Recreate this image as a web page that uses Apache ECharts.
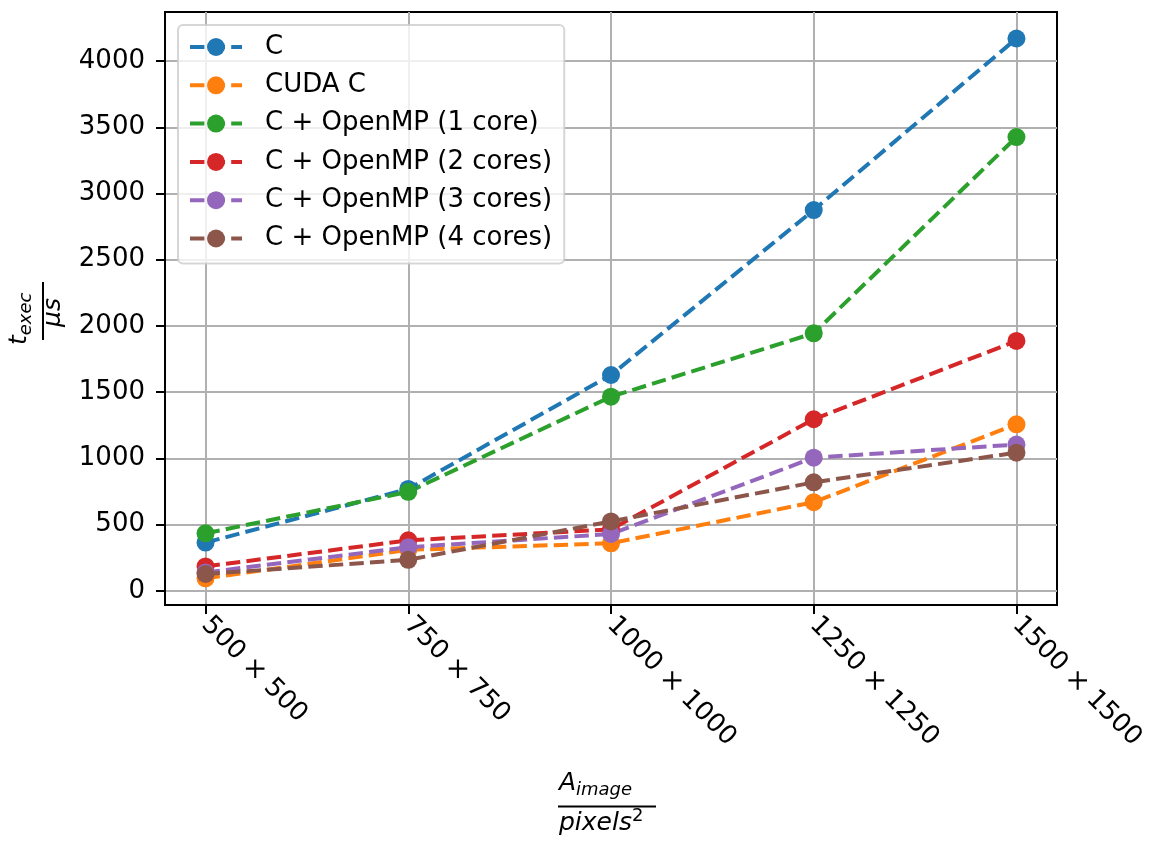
<!DOCTYPE html>
<html>
<head>
<meta charset="utf-8">
<script src="https://cdn.jsdelivr.net/npm/echarts@6/dist/echarts.min.js"></script>
<style>
  html, body { margin: 0; padding: 0; background: #fff; }
  #chart { width: 1162px; height: 841px; }
</style>
</head>
<body>
<div id="chart"></div>
<script>
/* ---- data ---- */
const sizes = ['500 × 500', '750 × 750', '1000 × 1000', '1250 × 1250', '1500 × 1500'];
const yTicks = [0, 500, 1000, 1500, 2000, 2500, 3000, 3500, 4000];

const seriesNames = ['C', 'CUDA C', 'C + OpenMP (1 core)', 'C + OpenMP (2 cores)', 'C + OpenMP (3 cores)', 'C + OpenMP (4 cores)'];
const cTimes      = [365, 770, 1630, 2875, 4170];
const cudaTimes   = [95, 310, 360, 670, 1258];
const omp1Times   = [435, 748, 1466, 1945, 3426];
const omp2Times   = [185, 382, 465, 1296, 1887];
const omp3Times   = [140, 330, 430, 1006, 1105];
const omp4Times   = [128, 235, 525, 820, 1044];
const colors = ['#1f77b4', '#ff7f0e', '#2ca02c', '#d62728', '#9467bd', '#8c564b'];

const allTimes = [cTimes, cudaTimes, omp1Times, omp2Times, omp3Times, omp4Times];
const FONT = 'DejaVu Sans';
const DASH = [14.4, 6.2];

const chart = echarts.init(document.getElementById('chart'), null, { renderer: 'canvas' });

const series = allTimes.map((vals, i) => ({
  name: seriesNames[i],
  type: 'line',
  data: vals.map((v, k) => [k, v]),
  symbol: 'circle',
  symbolSize: 18,
  color: colors[i],
  lineStyle: { width: 4, type: DASH, color: colors[i] },
  itemStyle: { color: colors[i] },
  emphasis: { disabled: true },
  animation: false
}));

const option = {
  animation: false,
  grid: { left: 165, right: 105, top: 12, bottom: 236, show: true, borderColor: '#000', borderWidth: 2, backgroundColor: 'transparent' },
  legend: {
    left: 178, top: 25,
    orient: 'vertical',
    padding: [9, 12, 12, 10],
    itemGap: 12.3,
    itemWidth: 52, itemHeight: 22.5,
    lineStyle: { width: 4, type: DASH },
    backgroundColor: 'rgba(255,255,255,0.8)',
    borderColor: 'rgba(204,204,204,0.8)',
    borderWidth: 2, borderRadius: 5,
    textStyle: { fontFamily: FONT, fontSize: 26, color: '#000', padding: [0, 0, 0, 18], lineHeight: 26 },
    data: seriesNames
  },
  xAxis: {
    type: 'value',
    min: -0.2, max: 4.2,
    splitNumber: 4,
    axisLine: { show: true, onZero: false, lineStyle: { color: '#000', width: 2 } },
    axisTick: { show: true, length: 9, lineStyle: { color: '#000', width: 2 }, customValues: [0, 1, 2, 3, 4] },
    axisLabel: {
      customValues: [0, 1, 2, 3, 4],
      rotate: -45, margin: 16,
      fontFamily: FONT, fontSize: 26, color: '#000',
      formatter: v => (Number.isInteger(v) && sizes[v]) ? sizes[v] : ''
    },
    splitLine: { show: true, lineStyle: { color: '#b0b0b0', width: 2 } }
  },
  yAxis: {
    type: 'value',
    min: -106, max: 4370,
    splitNumber: 9,
    axisLine: { show: true, onZero: false, lineStyle: { color: '#000', width: 2 } },
    axisTick: { show: true, length: 9, lineStyle: { color: '#000', width: 2 }, customValues: yTicks },
    axisLabel: {
      customValues: yTicks,
      margin: 20,
      fontFamily: FONT, fontSize: 26, color: '#000',
      formatter: v => (v % 500 === 0 && v >= 0) ? String(v) : ''
    },
    splitLine: { show: true, lineStyle: { color: '#b0b0b0', width: 2 } }
  },
  graphic: [
    // x axis title: A_image / pixels^2
    { type: 'text', x: 559, y: 783.4, style: { text: 'A', font: 'italic 25px "DejaVu Sans"', fill: '#000', textAlign: 'left', textVerticalAlign: 'middle' } },
    { type: 'text', x: 576, y: 790.8, style: { text: 'image', font: 'italic 18px "DejaVu Sans"', fill: '#000', textAlign: 'left', textVerticalAlign: 'middle' } },
    { type: 'line', shape: { x1: 558, y1: 806.5, x2: 656, y2: 806.5 }, style: { stroke: '#000', lineWidth: 2 } },
    { type: 'text', x: 559, y: 823.4, style: { text: 'pixels', font: 'italic 25px "DejaVu Sans"', fill: '#000', textAlign: 'left', textVerticalAlign: 'middle' } },
    { type: 'text', x: 632, y: 816.8, style: { text: '2', font: '18px "DejaVu Sans"', fill: '#000', textAlign: 'left', textVerticalAlign: 'middle' } },
    // y axis title: t_exec / mu s  (rotated)
    {
      type: 'group', x: 43, y: 311, rotation: Math.PI / 2,
      children: [
        { type: 'line', shape: { x1: -29, y1: 0, x2: 29, y2: 0 }, style: { stroke: '#000', lineWidth: 2 } },
        { type: 'text', x: -34, y: -23.6, style: { text: 't', font: 'italic 25px "DejaVu Sans"', fill: '#000', textAlign: 'left', textVerticalAlign: 'middle' } },
        { type: 'text', x: -24.2, y: -16.2, style: { text: 'exec', font: 'italic 18px "DejaVu Sans"', fill: '#000', textAlign: 'left', textVerticalAlign: 'middle' } },
        { type: 'text', x: -16, y: 10, style: { text: 'μs', font: 'italic 25px "DejaVu Sans"', fill: '#000', textAlign: 'left', textVerticalAlign: 'middle' } }
      ]
    }
  ],
  series: series
};

chart.setOption(option);
</script>
</body>
</html>
